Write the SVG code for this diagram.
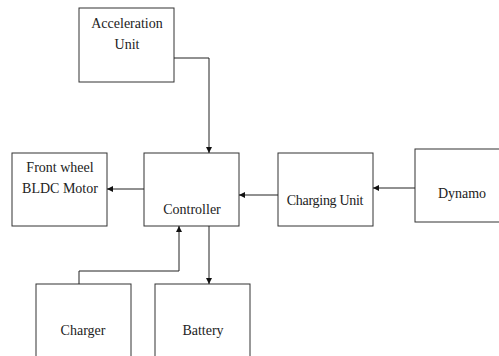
<svg xmlns="http://www.w3.org/2000/svg" width="499" height="356" viewBox="0 0 499 356">
<style>
.box{fill:#fff;stroke:#333;stroke-width:1}
.t{font-family:'Liberation Serif','Times New Roman',Times,serif;font-size:14px;fill:#222;text-anchor:middle}
.c{fill:none;stroke:#222;stroke-width:1}
</style>
<defs>
<marker id="a" viewBox="0 0 8 8" refX="8" refY="4" markerWidth="6" markerHeight="6" markerUnits="userSpaceOnUse" orient="auto">
<path d="M0,0 L8,4 L0,8 Z" fill="#111"/>
</marker>
</defs>
<rect width="499" height="356" fill="#fff"/>
<g id="accel"><rect class="box" x="79" y="8" width="95" height="74"/><text class="t" x="127" y="28" font-family="Liberation Serif, serif">Acceleration</text><text class="t" x="127" y="49" font-family="Liberation Serif, serif">Unit</text></g>
<g id="motor"><rect class="box" x="12" y="153" width="95" height="73"/><text class="t" x="60" y="172" font-family="Liberation Serif, serif">Front wheel</text><text class="t" x="60" y="193" font-family="Liberation Serif, serif">BLDC Motor</text></g>
<g id="controller"><rect class="box" x="144" y="153" width="95" height="73"/><text class="t" x="192" y="214" font-family="Liberation Serif, serif">Controller</text></g>
<g id="charging"><rect class="box" x="278" y="153" width="95" height="73"/><text class="t" x="325" y="205" letter-spacing="-0.3" font-family="Liberation Serif, serif">Charging Unit</text></g>
<g id="dynamo"><rect class="box" x="415" y="149" width="90" height="73"/><text class="t" x="462" y="198" font-family="Liberation Serif, serif">Dynamo</text></g>
<g id="charger"><rect class="box" x="36" y="284" width="95" height="80"/><text class="t" x="83" y="335" font-family="Liberation Serif, serif">Charger</text></g>
<g id="battery"><rect class="box" x="155" y="284" width="95" height="80"/><text class="t" x="203" y="335" font-family="Liberation Serif, serif">Battery</text></g>
<g id="connectors">
<path class="c" d="M174,58 H209 V153" marker-end="url(#a)"/>
<path class="c" d="M144,189 H107" marker-end="url(#a)"/>
<path class="c" d="M278,195 H239" marker-end="url(#a)"/>
<path class="c" d="M415,188 H373" marker-end="url(#a)"/>
<path class="c" d="M79,284 V271 H179 V226" marker-end="url(#a)"/>
<path class="c" d="M209,226 V284" marker-end="url(#a)"/>
</g>
</svg>
